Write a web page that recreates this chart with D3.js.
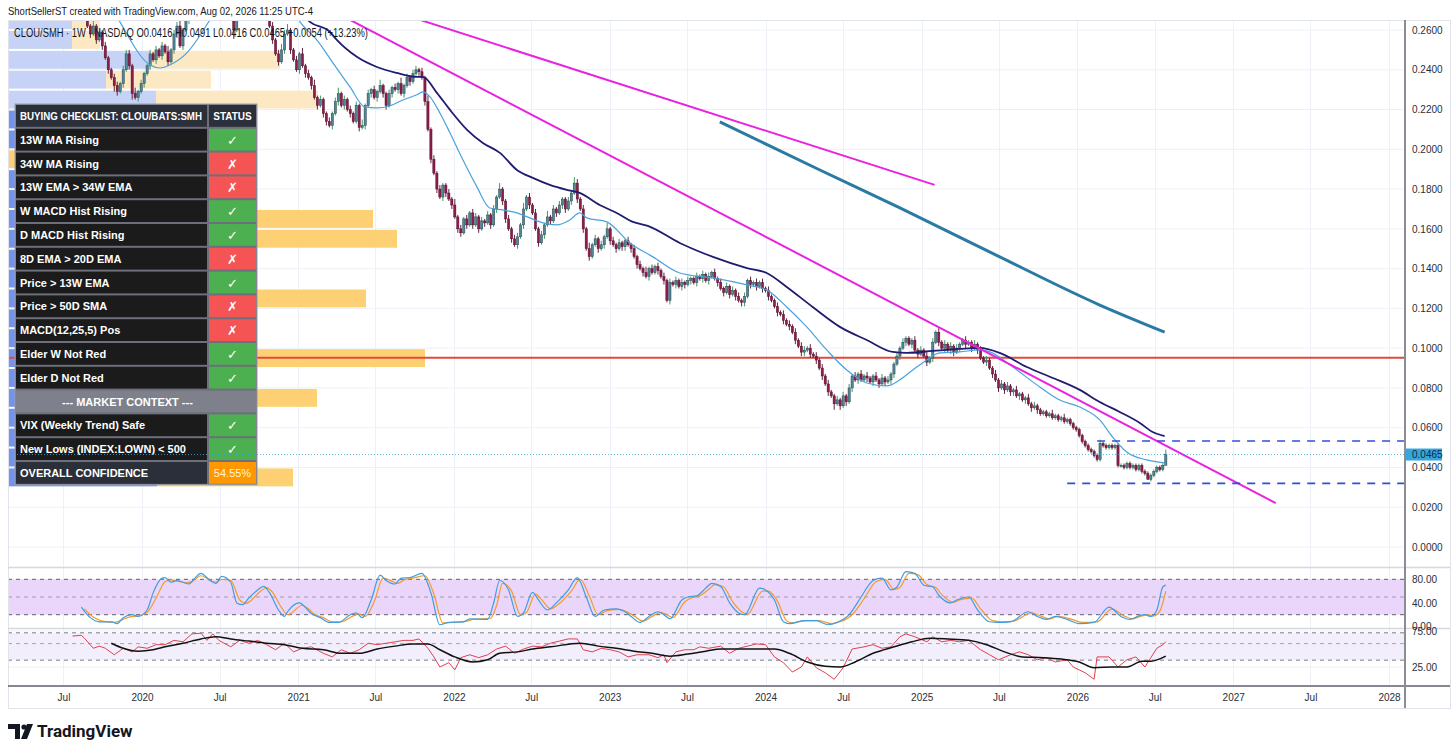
<!DOCTYPE html>
<html>
<head>
<meta charset="utf-8">
<script src="https://cdn.jsdelivr.net/npm/d3@7"></script>
<style>
  body { margin: 0; background: #fff; }
  svg { display: block; font-family: "Liberation Sans", Arial, sans-serif; }
</style>
</head>
<body>
<svg id="chart" width="1456" height="755"></svg>
<script>
// ---------- data ----------
const weekStart = "2019-08-26";      // first visible weekly bar
const firstOpen = 0.266;
// weekly closes, one per bar (10 per line)
const closes = [
  .262,.258,.262,.255,.259,.252,.246,.240,.236,.232,
  .229,.233,.240,.248,.242,.228,.226,.229,.233,.238,
  .242,.248,.245,.250,.247,.252,.249,.244,.250,.258,
  .262,.252,.260,.265,.268,.272,.285,.295,.300,.310,
  .305,.315,.320,.310,.300,.305,.295,.290,.278,.260,
  .272,.285,.290,.295,.300,.292,.288,.295,.290,.282,
  .272,.262,.255,.248,.244,.250,.258,.260,.250,.245,
  .240,.248,.242,.238,.236,.232,.226,.222,.225,.218,
  .214,.212,.218,.224,.228,.222,.225,.220,.218,.214,
  .222,.211,.212,.222,.228,.230,.226,.229,.232,.228,
  .222,.228,.231,.230,.233,.228,.232,.236,.234,.238,
  .240,.239,.236,.224,.210,.195,.188,.180,.176,.182,
  .178,.175,.172,.166,.160,.158,.165,.162,.168,.162,
  .166,.160,.164,.163,.167,.162,.170,.176,.180,.174,
  .165,.160,.155,.152,.156,.162,.170,.176,.172,.168,
  .160,.153,.157,.162,.166,.164,.170,.168,.172,.175,
  .170,.174,.178,.183,.175,.170,.160,.150,.146,.152,
  .155,.150,.152,.156,.160,.154,.152,.150,.153,.151,
  .154,.152,.150,.146,.142,.140,.138,.136,.140,.138,
  .141,.139,.136,.134,.124,.133,.132,.134,.131,.133,
  .132,.134,.135,.133,.136,.135,.137,.134,.136,.138,
  .135,.133,.130,.128,.131,.127,.129,.126,.124,.123,
  .126,.134,.132,.133,.131,.133,.130,.129,.126,.124,
  .121,.118,.117,.114,.112,.111,.108,.104,.101,.098,
  .099,.100,.097,.096,.094,.090,.086,.082,.078,.076,
  .072,.074,.071,.076,.073,.080,.086,.084,.087,.084,
  .086,.085,.083,.086,.084,.082,.085,.083,.084,.087,
  .092,.096,.100,.103,.105,.102,.104,.099,.097,.099,
  .096,.093,.095,.103,.108,.103,.100,.102,.099,.101,
  .098,.100,.102,.104,.102,.103,.100,.102,.099,.095,
  .093,.094,.090,.087,.084,.080,.082,.079,.081,.078,
  .079,.076,.077,.074,.075,.072,.070,.071,.069,.067,
  .068,.066,.067,.065,.066,.064,.065,.063,.064,.062,
  .060,.059,.056,.053,.051,.049,.048,.046,.044,.052,
  .051,.050,.051,.050,.051,.041,.041,.040,.042,.040,
  .041,.039,.041,.038,.037,.034,.036,.038,.040,.039,
  .0411,.0465
];
// wick lengths per bar, one digit per bar, in units of 0.0005
const wickUnit = 0.0005;
const wickHi = `4262424224 4244426242 2424242624 4624242424 2426242424 4242624242 4242464622 4262426242 2424624242 4262424262
  2424262424 4242624242 2426242424 4242424262 2424426242 4242624242 2426424262 4242624242 2424242624 2424242424
  2422424242 4242424242 4242424242 2424242424 4242424242 2424242424 2422424242 2424222424 2424242424 2422422424
  2422424242 2422242422 2224222422 2222222224 2222222222 2222222222 25`;
const wickLo = `2424242426 4242462424 2424242424 4242424242 4242424249 2424242424 4242424242 2424242424 4242424242 2424242424
  4242424242 2424242424 4242442424 2424242424 4242424242 2424242424 4242424242 2424242424 4242424242 2424242424
  4242424242 2424242424 4242424242 2424242424 4242424242 6242424242 2424242424 4242424242 2424242424 4242424242
  2424242424 4242424242 2222222222 2222222222 2222222222 2222202222 20`;

const lastBar = { open: 0.0416, high: 0.0491, low: 0.0416, close: 0.0465, change: 0.0054, pct: 13.23 };

// moving averages as [week index, value]
const ema13 = [[8,.272],[10.9,.2641],[21,.2424],[24.3,.2409],[27.6,.2424],[33.3,.2485],[41,.2651],[50,.29],[60,.29],
  [67.8,.2726],[71.2,.2641],[76.8,.2550],[82.2,.2435],[87.9,.2314],[92.9,.2213],[96.9,.2208],[101.2,.2218],
  [105.6,.2248],[110.3,.2274],[112.3,.2289],[114.7,.2264],[118,.2183],[121.4,.2082],[125.7,.1947],[130.4,.1811],
  [134.7,.1705],[139.1,.1695],[143.8,.1680],[148.1,.1655],[152.5,.1630],[157.2,.1620],[161.5,.1645],[164.8,.1680],
  [167.2,.1655],[173.9,.1635],[181.6,.1529],[189.3,.1459],[198.3,.1378],[209.4,.1353],[220.8,.1318],[227.4,.1293],
  [234.1,.1207],[240.8,.1107],[247.5,.0991],[254.2,.0890],[260.9,.0825],[267.6,.0810],[271.9,.0840],[276.3,.0890],
  [281,.0941],[285.3,.0976],[292,.0981],[298.7,.0991],[302.1,.0981],[309.8,.0905],[318.8,.0805],[325.5,.0739],
  [332.2,.0704],[338.9,.0639],[343.2,.0553],[347.9,.0478],[354.6,.0438],[360.6,.0423]];
const ema34 = [[55,.29],[69.5,.2726],[74.5,.2641],[81.2,.2590],[83.5,.2550],[90.2,.2465],[96.9,.2414],[103.6,.2384],
  [110.3,.2364],[112.3,.2364],[117,.2284],[121.4,.2198],[127.1,.2098],[132.4,.2032],[138.1,.1982],[143.8,.1896],
  [149.1,.1856],[154.8,.1821],[160.5,.1796],[164.8,.1781],[171.5,.1720],[177.2,.1680],[182.6,.1635],[187.6,.1615],
  [198.3,.1529],[209.4,.1459],[220.8,.1403],[227.4,.1378],[234.1,.1308],[242.8,.1207],[251.9,.1107],[260.9,.1041],
  [269.6,.0981],[274.3,.0976],[283,.0986],[292,.0996],[298.7,.1001],[305.4,.0976],[314.5,.0905],[323.2,.0850],
  [332.2,.0790],[338.9,.0729],[345.6,.0679],[352.3,.0624],[356.6,.0578],[360.6,.0558]];
const ma200 = [[211.7,.2138],[228.4,.2017],[245.2,.1896],[272,.1705],[305.4,.1459],[338.9,.1217],[360.6,.1081]];

// drawings
const trendLines = [ [[87.9,.2651],[397.8,.0221]], [[111.3,.2651],[283.6,.1821]] ];
const rangeLines = [[338,.0533],[328,.0320]];   // [start week, price], run to the right edge
const supportLevel = 0.0952;

// volume profile rows: lower edge of each 0.01 bin, up and down volume
const vpStep = 0.01;
const vpLow  = [.03,.04,.05,.06,.07,.08,.09,.10,.11,.12,.13,.14,.15,.16,.17,.18,.19,.20,.21,.22,.23,.24,.25,.26];
const vpUp   = [149,110,100, 90,150,120,200,110, 90,170,120,110,190,180,120,110,  0,100,110,148, 98,142, 64, 64];
const vpDown = [136,100, 90, 80,159,100,217,100, 80,188,110,100,199,185,110,100,200, 90,100,162,105,130, 28, 28];
const valueArea = [0.03, 0.22];

// stochastic RSI pane
const stochK = [[-2,33],[1,15],[4,8],[8,8],[10,5],[12,15],[15,20],[17,17],[20,28],[22,57],[25,82],[26,83],[28,75],
  [30,78],[32,75],[34,72],[36,82],[38,90],[41,78],[43,73],[45,85],[48,75],[50,40],[52,37],[54,48],[57,62],[59,68],
  [61,57],[64,28],[66,17],[67,25],[71,40],[73,32],[75,22],[78,15],[81,7],[84,7],[88,20],[90,23],[92,15],[95,45],
  [98,87],[100,78],[103,72],[105,82],[108,83],[112,90],[115,57],[118,3],[121,7],[126,8],[128,13],[134,12],[136,40],
  [138,78],[141,62],[144,17],[146,23],[149,58],[151,45],[154,28],[157,40],[161,62],[164,83],[167,50],[170,17],
  [173,28],[177,30],[180,25],[182,17],[185,7],[188,17],[191,25],[193,20],[195,13],[199,45],[201,50],[204,52],
  [207,65],[209,73],[212,68],[215,40],[218,23],[220,20],[225,65],[227,62],[230,45],[233,8],[235,5],[240,10],
  [244,10],[248,3],[251,7],[255,20],[259,50],[263,78],[266,82],[269,62],[271,67],[274,93],[277,90],[280,70],
  [283,67],[285,53],[289,40],[291,45],[295,50],[298,28],[302,8],[305,7],[309,8],[315,25],[318,17],[321,12],
  [324,17],[328,12],[332,5],[337,7],[342,33],[346,17],[349,12],[352,18],[354,20],[356,17],[358,28],[360,67],[361,70]];
const stochD = [[-1,30],[2,16],[5,9],[9,7],[11,10],[14,16],[17,18],[20,24],[23,48],[26,76],[28,79],[30,77],[33,74],
  [35,76],[38,86],[40,82],[43,75],[45,80],[48,78],[51,45],[53,39],[55,45],[58,60],[60,66],[62,58],[65,32],[67,20],
  [68,22],[72,36],[74,30],[76,21],[79,15],[82,8],[85,8],[89,18],[91,21],[93,17],[96,42],[99,82],[101,79],[104,73],
  [106,79],[109,82],[113,86],[116,55],[119,6],[122,7],[127,9],[129,12],[135,14],[137,36],[139,73],[142,60],[145,20],
  [147,24],[150,55],[152,46],[155,30],[158,39],[162,60],[165,80],[168,52],[171,20],[174,27],[178,29],[181,24],
  [183,18],[186,9],[189,17],[192,24],[194,20],[196,15],[200,42],[202,48],[205,52],[208,63],[210,71],[213,67],
  [216,42],[219,25],[221,21],[226,60],[228,60],[231,43],[234,10],[236,6],[241,10],[245,10],[249,5],[252,8],
  [256,20],[260,47],[264,76],[267,80],[270,63],[272,66],[275,90],[278,88],[281,71],[284,66],[286,54],[290,41],
  [292,45],[296,48],[299,30],[303,10],[306,8],[310,9],[316,23],[319,18],[322,13],[325,17],[329,13],[333,7],
  [338,8],[343,30],[347,18],[350,13],[353,18],[355,20],[357,18],[359,26],[361,60]];
const stochLevels = [80, 50, 20];
const stochTicks = [0, 40, 80];

// RSI pane
const rsiLine = [[-5,68],[-2,69],[-1,65],[2,51],[4,54],[6,51],[9,42],[12,51],[15,46],[17,53],[20,51],[23,56],[26,56],
  [29,62],[32,60],[35,71],[38,72],[40,62],[42,71],[44,62],[48,53],[51,62],[54,58],[57,62],[60,56],[63,49],[66,58],
  [69,46],[72,51],[75,53],[79,44],[82,39],[85,49],[88,44],[91,49],[94,58],[97,56],[100,58],[103,60],[106,62],
  [109,62],[111,64],[114,51],[116,39],[118,25],[121,31],[123,21],[125,38],[128,42],[131,38],[134,42],[137,50],
  [140,54],[143,44],[146,50],[149,54],[152,53],[155,58],[158,61],[161,64],[164,64],[166,49],[169,46],[172,51],
  [175,49],[178,46],[181,39],[184,42],[188,42],[191,38],[193,42],[194,31],[197,46],[200,49],[203,49],[205,53],
  [208,51],[212,54],[215,44],[218,51],[221,54],[224,57],[227,56],[230,39],[233,31],[236,18],[239,25],[241,39],
  [244,24],[247,17],[250,8],[253,24],[256,50],[260,53],[263,56],[266,51],[269,53],[272,67],[274,71],[277,67],
  [281,60],[283,67],[286,60],[289,62],[292,60],[295,62],[299,49],[302,42],[305,35],[309,42],[312,46],[315,42],
  [318,35],[321,38],[324,32],[328,35],[330,25],[334,17],[337,8],[338,39],[342,39],[345,25],[348,35],[351,39],
  [354,25],[356,38],[358,51],[360,56],[361,60]];
const rsiAvg = [[8,58],[12,51],[17,47],[22,49],[26,53],[32,58],[38,64],[43,67],[48,64],[54,61],[60,58],[66,56],
  [72,51],[79,49],[85,44],[91,44],[97,50],[103,54],[109,57],[114,57],[118,49],[123,39],[129,32],[134,35],[138,44],
  [144,46],[149,50],[155,53],[165,58],[171,54],[177,51],[183,47],[189,44],[195,40],[201,43],[207,47],[212,50],
  [221,50],[230,50],[235,44],[241,32],[247,26],[252,25],[257,32],[263,44],[270,53],[276,60],[282,65],[288,64],
  [295,62],[301,56],[307,46],[313,39],[320,38],[326,36],[332,32],[337,24],[343,25],[348,25],[353,33],[356,33],[361,40]];
const rsiLevels = [72.5, 57.5, 34.5];
const rsiTicks = [25, 75];

// axes
const priceTicks = [0,.02,.04,.06,.08,.10,.12,.14,.16,.18,.20,.22,.24,.26];
const timeTicks = ["2019-07-01","2020-01-01","2020-07-01","2021-01-01","2021-07-01","2022-01-01","2022-07-01",
  "2023-01-01","2023-07-01","2024-01-01","2024-07-01","2025-01-01","2025-07-01","2026-01-01","2026-07-01",
  "2027-01-01","2027-07-01","2028-01-01"];

// checklist table
const checkItems = ["13W MA Rising","34W MA Rising","13W EMA > 34W EMA","W MACD Hist Rising","D MACD Hist Rising",
  "8D EMA > 20D EMA","Price > 13W EMA","Price > 50D SMA","MACD(12,25,5) Pos","Elder W Not Red","Elder D Not Red"];
const checkPass  = [true,false,false,true,true,false,true,false,false,true,true];
const contextItems = ["VIX (Weekly Trend) Safe","New Lows (INDEX:LOWN) < 500"];
const contextPass  = [true,true];
const confidence = "54.55%";

// ---------- drawing ----------
const svg = d3.select("#chart");
const L = 8, R = 1405, FR = 1450;
const mainTop = 20, mainBot = 567, stTop = 568, stBot = 628, rsTop = 629, rsBot = 685;

const parse = d3.utcParse("%Y-%m-%d");
const x = d3.scaleUtc().domain([parse("2020-01-01"), parse("2028-01-01")]).range([142, 1389]);
const t0 = parse(weekStart).getTime();
const xw = i => x(new Date(t0 + i * 7 * 864e5));
const yP = d3.scaleLinear().domain([0, 0.26]).range([547, 30]);
const yS = d3.scaleLinear().domain([0, 80]).range([626.5, 579.3]);
const yR = d3.scaleLinear().domain([25, 75]).range([667, 631]);

const defs = svg.append("defs");
[["clipMain", mainTop, mainBot], ["clipSt", stTop, stBot], ["clipRs", rsTop, rsBot]].forEach(([id, a, b]) => {
  defs.append("clipPath").attr("id", id).append("rect").attr("x", L).attr("y", a).attr("width", R - L).attr("height", b - a);
});

svg.append("rect").attr("width", 1456).attr("height", 755).attr("fill", "#fff");

// grid
const grid = svg.append("g").attr("stroke", "#edf1f7").attr("stroke-width", 1);
timeTicks.forEach(d => {
  const xx = Math.round(x(parse(d))) + 0.5;
  grid.append("line").attr("x1", xx).attr("x2", xx).attr("y1", mainTop).attr("y2", rsBot);
});
priceTicks.forEach(v => {
  grid.append("line").attr("x1", L).attr("x2", R).attr("y1", yP(v)).attr("y2", yP(v));
});
grid.append("line").attr("x1", L).attr("x2", R).attr("y1", yS(40)).attr("y2", yS(40));
rsiTicks.forEach(v => grid.append("line").attr("x1", L).attr("x2", R).attr("y1", yR(v)).attr("y2", yR(v)));

// indicator bands
svg.append("rect").attr("x", L).attr("width", R - L).attr("y", yS(80)).attr("height", yS(20) - yS(80)).attr("fill", "#ebd6fb");
svg.append("rect").attr("x", L).attr("width", R - L).attr("y", yR(rsiLevels[0])).attr("height", yR(rsiLevels[2]) - yR(rsiLevels[0])).attr("fill", "#f3eefb");
stochLevels.forEach((v, k) => svg.append("line").attr("x1", L).attr("x2", R).attr("y1", yS(v)).attr("y2", yS(v))
  .attr("stroke", k === 1 ? "#9b9ea8" : "#5d606b").attr("stroke-dasharray", "4,4").attr("stroke-width", 1));
rsiLevels.forEach((v, k) => svg.append("line").attr("x1", L).attr("x2", R).attr("y1", yR(v)).attr("y2", yR(v))
  .attr("stroke", k === 1 ? "#a3a6ae" : "#7a7d87").attr("stroke-dasharray", "4,4").attr("stroke-width", 1));

// main pane content
const main = svg.append("g").attr("clip-path", "url(#clipMain)");

// volume profile
const vpX = d3.scaleLinear().domain([0, 420]).range([0, 420]);
vpLow.forEach((lo, k) => {
  const inVA = lo >= valueArea[0] && lo < valueArea[1];
  const y0 = yP(lo + vpStep) + 1, h = yP(lo) - yP(lo + vpStep) - 2;
  const wUp = vpX(vpUp[k]), wDn = vpX(vpDown[k]);
  main.append("rect").attr("x", L).attr("y", y0).attr("width", wUp).attr("height", h)
    .attr("fill", inVA ? "#7493f0" : "#c6d3f6");
  main.append("rect").attr("x", L + wUp).attr("y", y0).attr("width", wDn).attr("height", h)
    .attr("fill", inVA ? "#fdd173" : "#fce9c4");
});

// support line
main.append("line").attr("x1", L).attr("x2", R).attr("y1", yP(supportLevel)).attr("y2", yP(supportLevel))
  .attr("stroke", "#e5483b").attr("stroke-width", 2);

// candles
const hiDigits = wickHi.replace(/\s/g, ""), loDigits = wickLo.replace(/\s/g, "");
const bars = closes.map((c, i) => {
  const o = i === 0 ? firstOpen : closes[i - 1];
  return { i, o, c, h: Math.max(o, c) + (+hiDigits[i]) * wickUnit, l: Math.min(o, c) - (+loDigits[i]) * wickUnit, up: c >= o };
});
const cg = main.append("g");
cg.selectAll("line.wick").data(bars).join("line").attr("class", "wick")
  .attr("x1", d => xw(d.i)).attr("x2", d => xw(d.i))
  .attr("y1", d => yP(d.h)).attr("y2", d => yP(d.l))
  .attr("stroke", d => d.up ? "#3f9a5a" : "#5d2a3c").attr("stroke-width", 1);
cg.selectAll("rect.body").data(bars).join("rect").attr("class", "body")
  .attr("x", d => xw(d.i) - 1.1).attr("width", 2.2)
  .attr("y", d => yP(Math.max(d.o, d.c)))
  .attr("height", d => Math.max(1, Math.abs(yP(d.o) - yP(d.c))))
  .attr("fill", d => d.up ? "#52879b" : "#8c1d4a")
  .attr("stroke", d => d.up ? "#27434f" : "#5e1030").attr("stroke-width", 0.5);

// moving averages
const maLine = d3.line().x(d => xw(d[0])).y(d => yP(d[1])).curve(d3.curveMonotoneX);
main.append("path").attr("d", maLine(ma200)).attr("fill", "none").attr("stroke", "#2a7aa3").attr("stroke-width", 3);
main.append("path").attr("d", maLine(ema34)).attr("fill", "none").attr("stroke", "#1f1c70").attr("stroke-width", 1.8);
main.append("path").attr("d", maLine(ema13)).attr("fill", "none").attr("stroke", "#4aa2dd").attr("stroke-width", 1.2);

// trend lines and range lines
trendLines.forEach(seg => main.append("line")
  .attr("x1", xw(seg[0][0])).attr("y1", yP(seg[0][1])).attr("x2", xw(seg[1][0])).attr("y2", yP(seg[1][1]))
  .attr("stroke", "#ea22df").attr("stroke-width", 2));
rangeLines.forEach(([w, p]) => main.append("line")
  .attr("x1", xw(w)).attr("x2", R).attr("y1", yP(p)).attr("y2", yP(p))
  .attr("stroke", "#2f4fd8").attr("stroke-width", 1.6).attr("stroke-dasharray", "8,7"));

// stochastic RSI lines
const st = svg.append("g").attr("clip-path", "url(#clipSt)");
const stLine = d3.line().x(d => xw(d[0])).y(d => yS(d[1])).curve(d3.curveMonotoneX);
st.append("path").attr("d", stLine(stochD)).attr("fill", "none").attr("stroke", "#f39a2c").attr("stroke-width", 1.2);
st.append("path").attr("d", stLine(stochK)).attr("fill", "none").attr("stroke", "#3f9de0").attr("stroke-width", 1.2);

// RSI lines
const rs = svg.append("g").attr("clip-path", "url(#clipRs)");
rs.append("path").attr("d", d3.line().x(d => xw(d[0])).y(d => yR(d[1]))(rsiLine))
  .attr("fill", "none").attr("stroke", "#e0404f").attr("stroke-width", 1);
rs.append("path").attr("d", d3.line().x(d => xw(d[0])).y(d => yR(d[1])).curve(d3.curveMonotoneX)(rsiAvg))
  .attr("fill", "none").attr("stroke", "#111").attr("stroke-width", 1.5);

// legend text
const f4 = d3.format(".4f");
svg.append("text").attr("x", 14).attr("y", 37).attr("font-size", 12.5).attr("fill", "#131722")
  .attr("textLength", 354).attr("lengthAdjust", "spacingAndGlyphs")
  .text(`CLOU/SMH · 1W · NASDAQ  O${f4(lastBar.open)}  H${f4(lastBar.high)}  L${f4(lastBar.low)}  C${f4(lastBar.close)}  +${f4(lastBar.change)} (+${lastBar.pct}%)`);

// checklist table
const tb = svg.append("g");
const tX = 15, tW = 242, split = 208, tY = 104, rh = 23.8;
const rows = [];
rows.push({ kind: "head", label: "BUYING CHECKLIST: CLOU/BATS:SMH", status: "STATUS" });
checkItems.forEach((s, k) => rows.push({ kind: "item", label: s, pass: checkPass[k] }));
rows.push({ kind: "ctx", label: "--- MARKET CONTEXT ---" });
contextItems.forEach((s, k) => rows.push({ kind: "item", label: s, pass: contextPass[k] }));
rows.push({ kind: "total", label: "OVERALL CONFIDENCE", status: confidence });
tb.append("rect").attr("x", tX).attr("y", tY).attr("width", tW).attr("height", rows.length * rh)
  .attr("fill", "#6d707a").attr("stroke", "#9a9da6").attr("stroke-width", 1);
rows.forEach((r, k) => {
  const y0 = tY + k * rh;
  const cy = y0 + rh / 2 + 4;
  if (r.kind === "ctx") {
    tb.append("rect").attr("x", tX + 1).attr("y", y0 + 1).attr("width", tW - 2).attr("height", rh - 2).attr("fill", "#7e818b");
    tb.append("text").attr("x", (tX + split) / 2 + 16).attr("y", cy).attr("text-anchor", "middle")
      .attr("fill", "#fff").attr("font-size", 11).attr("font-weight", "bold").text(r.label);
    return;
  }
  const lblFill = r.kind === "item" ? "#1b1b1c" : "#2b2f3a";
  let stFill = "#2b2f3a";
  if (r.kind === "item") stFill = r.pass ? "#4caf50" : "#f45454";
  if (r.kind === "total") stFill = "#ff9800";
  tb.append("rect").attr("x", tX + 1).attr("y", y0 + 1).attr("width", split - tX - 2).attr("height", rh - 2).attr("fill", lblFill);
  tb.append("rect").attr("x", split + 1).attr("y", y0 + 1).attr("width", tX + tW - split - 2).attr("height", rh - 2).attr("fill", stFill);
  const lt = tb.append("text").attr("x", tX + 5).attr("y", cy).attr("fill", "#fff")
    .attr("font-size", 11).attr("font-weight", "bold").text(r.label);
  if (r.kind === "head") lt.attr("font-size", 10).attr("textLength", 182).attr("lengthAdjust", "spacingAndGlyphs");
  const sx = (split + tX + tW) / 2;
  if (r.kind === "item") {
    tb.append("text").attr("x", sx).attr("y", cy + 1).attr("text-anchor", "middle").attr("fill", "#fff")
      .attr("font-family", "DejaVu Sans").attr("font-weight", "bold").attr("font-size", 13).text(r.pass ? "✓" : "✗");
  } else {
    const s = tb.append("text").attr("x", sx).attr("y", cy).attr("text-anchor", "middle")
      .attr("fill", r.kind === "total" ? "#fff3d6" : "#fff").attr("font-size", 11)
      .attr("font-weight", r.kind === "head" ? "bold" : "normal").text(r.status);
    if (r.kind === "head") s.attr("font-size", 10);
  }
});

// last price line and label
svg.append("line").attr("x1", L).attr("x2", R).attr("y1", yP(lastBar.close)).attr("y2", yP(lastBar.close))
  .attr("stroke", "#3aa6dc").attr("stroke-width", 1).attr("stroke-dasharray", "1,2").attr("opacity", 0.8);

// frame, separators, axes
svg.append("rect").attr("x", L + 0.5).attr("y", mainTop + 0.5).attr("width", FR - L).attr("height", 688)
  .attr("fill", "none").attr("stroke", "#e0e3eb");
[mainBot + 0.5, stBot + 0.5].forEach(yy => svg.append("line").attr("x1", L).attr("x2", FR).attr("y1", yy).attr("y2", yy)
  .attr("stroke", "#d5d8df").attr("stroke-width", 1.5));

const axisP = d3.axisRight(yP).tickValues(priceTicks).tickFormat(d3.format(".4f")).tickSize(0).tickPadding(7);
svg.append("g").attr("transform", `translate(${R},0)`).call(axisP);
svg.append("g").attr("transform", `translate(${R},0)`).call(d3.axisRight(yS).tickValues(stochTicks).tickFormat(d3.format(".2f")).tickSize(0).tickPadding(7));
svg.append("g").attr("transform", `translate(${R},0)`).call(d3.axisRight(yR).tickValues(rsiTicks).tickFormat(d3.format(".2f")).tickSize(0).tickPadding(7));
const axisT = d3.axisBottom(x).tickValues(timeTicks.map(parse)).tickSize(0).tickPadding(8)
  .tickFormat(d => d.getUTCMonth() === 0 ? d3.utcFormat("%Y")(d) : d3.utcFormat("%b")(d));
svg.append("g").attr("transform", `translate(0,${rsBot + 1})`).call(axisT);
svg.selectAll(".domain").remove();
svg.selectAll(".tick text").attr("font-size", 10).attr("fill", "#2a2e39").attr("font-family", "Liberation Sans, Arial");

svg.append("line").attr("x1", L).attr("x2", FR).attr("y1", rsBot + 1).attr("y2", rsBot + 1).attr("stroke", "#5d606b").attr("stroke-width", 1.5);
svg.append("line").attr("x1", R).attr("x2", R).attr("y1", mainTop).attr("y2", 708).attr("stroke", "#8a8d96").attr("stroke-width", 2);

// price badge
const by = yP(lastBar.close);
svg.append("rect").attr("x", R + 1).attr("y", by - 6).attr("width", 36).attr("height", 12).attr("fill", "#36a6dd");
svg.append("text").attr("x", R + 7).attr("y", by + 3.5).attr("font-size", 10).attr("fill", "#0d2a40").text(f4(lastBar.close));

// header + logo
svg.append("text").attr("x", 8).attr("y", 15).attr("font-size", 11.5).attr("fill", "#131722")
  .attr("textLength", 305).attr("lengthAdjust", "spacingAndGlyphs")
  .text("ShortSellerST created with TradingView.com, Aug 02, 2026 11:25 UTC-4");
const logo = svg.append("g").attr("fill", "#131722");
logo.append("path").attr("d", "M8,724 H20 V739 H15 V729 H8 Z");
logo.append("circle").attr("cx", 24).attr("cy", 727).attr("r", 2.6);
logo.append("path").attr("d", "M27,724 H33 L27,739 H21 Z");
svg.append("text").attr("x", 37).attr("y", 737).attr("font-family", "Roboto, Inter, sans-serif").attr("font-weight", "bold")
  .attr("font-size", 17).attr("fill", "#131722").text("TradingView");
</script>
</body>
</html>
